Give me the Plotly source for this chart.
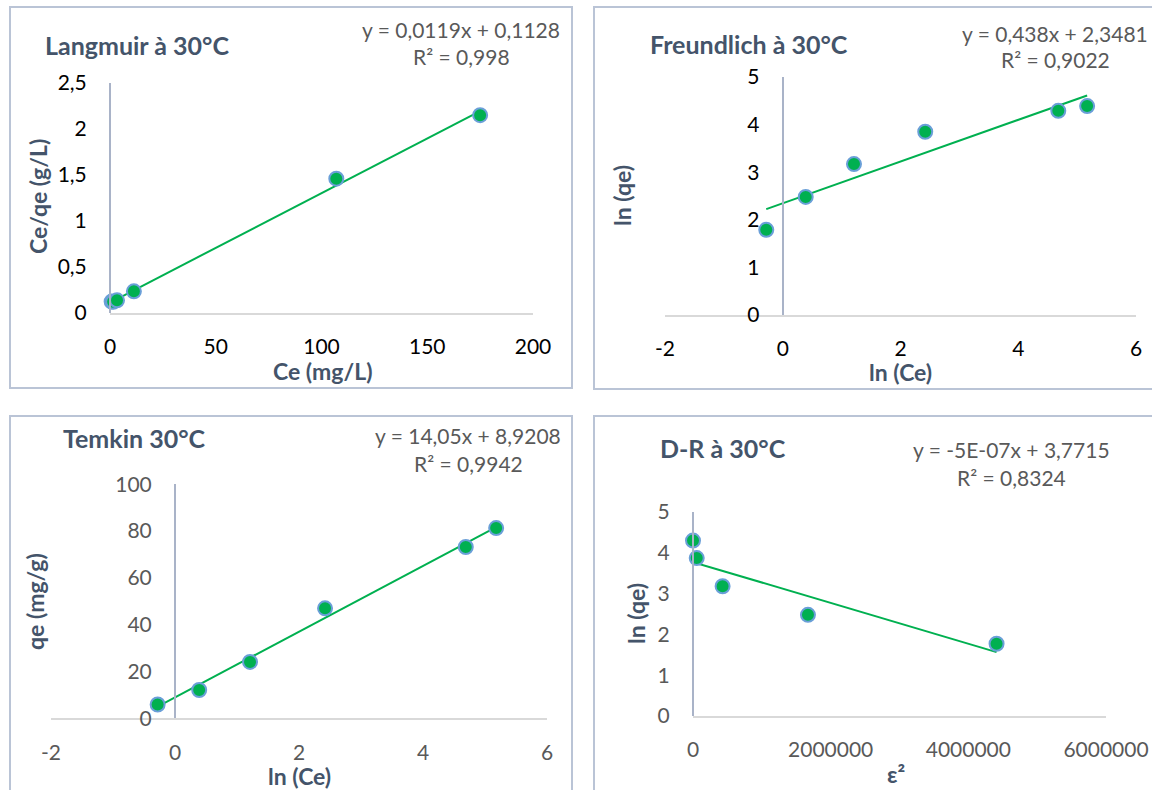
import plotly.graph_objects as go

W, H = 1152, 790

# Langmuir isotherm at 30 °C
langmuir_ce = [0.77, 1.49, 3.32, 11.3, 107.0, 175.0]
langmuir_ce_qe = [0.124, 0.122, 0.138, 0.236, 1.46, 2.15]
langmuir_fit = (0.0119, 0.1128)

# Freundlich isotherm at 30 °C
freundlich_ln_ce = [-0.28, 0.39, 1.21, 2.42, 4.68, 5.17]
freundlich_ln_qe = [1.79, 2.48, 3.17, 3.85, 4.29, 4.39]
freundlich_fit = (0.438, 2.3481)

# Temkin isotherm at 30 °C
temkin_ln_ce = [-0.28, 0.39, 1.21, 2.42, 4.69, 5.18]
temkin_qe = [5.9, 12.1, 24.1, 47.0, 73.2, 81.3]
temkin_fit = (14.05, 8.9208)

# Dubinin-Radushkevich isotherm at 30 °C
dr_eps2 = [0, 54000, 430000, 1670000, 4410000]
dr_ln_qe = [4.30, 3.87, 3.18, 2.48, 1.77]
dr_fit = (-5e-07, 3.7715)

# Tick values / labels
langmuir_xticks = [0, 50, 100, 150, 200]
langmuir_xlabels = ["0", "50", "100", "150", "200"]
langmuir_yticks = [0, 0.5, 1, 1.5, 2, 2.5]
langmuir_ylabels = ["0", "0,5", "1", "1,5", "2", "2,5"]
ln_ce_ticks = [-2, 0, 2, 4, 6]
ln_ce_labels = ["-2", "0", "2", "4", "6"]
ln_qe_ticks = [0, 1, 2, 3, 4, 5]
ln_qe_labels = ["0", "1", "2", "3", "4", "5"]
temkin_yticks = [0, 20, 40, 60, 80, 100]
temkin_ylabels = ["0", "20", "40", "60", "80", "100"]
dr_xticks = [0, 2000000, 4000000, 6000000]
dr_xlabels = ["0", "2000000", "4000000", "6000000"]


def px(x):
    return x / W


def py(y):
    return 1 - y / H


GREEN = "#00B050"
EDGE = "#6A9FD8"
TITLE_C = "#44546A"
EQ_C = "#595959"
FONT = "Lato"

fig = go.Figure()

panels = [
    dict(x=langmuir_ce, y=langmuir_ce_qe, fit=langmuir_fit,
         xdom=(110, 533), ydom=(83, 313), xr=[0, 200], yr=[0, 2.5],
         xt=(langmuir_xticks, langmuir_xlabels), yt=(langmuir_yticks, langmuir_ylabels),
         ypos=110, tick_c="#000000"),
    dict(x=freundlich_ln_ce, y=freundlich_ln_qe, fit=freundlich_fit,
         xdom=(665, 1136), ydom=(77, 315), xr=[-2, 6], yr=[0, 5],
         xt=(ln_ce_ticks, ln_ce_labels), yt=(ln_qe_ticks, ln_qe_labels),
         ypos=782.7, tick_c="#000000"),
    dict(x=temkin_ln_ce, y=temkin_qe, fit=temkin_fit,
         xdom=(51, 547), ydom=(484.3, 718.3), xr=[-2, 6], yr=[0, 100],
         xt=(ln_ce_ticks, ln_ce_labels), yt=(temkin_yticks, temkin_ylabels),
         ypos=175, tick_c="#595959"),
    dict(x=dr_eps2, y=dr_ln_qe, fit=dr_fit,
         xdom=(693, 1106), ydom=(512, 716), xr=[0, 6000000], yr=[0, 5],
         xt=(dr_xticks, dr_xlabels), yt=(ln_qe_ticks, ln_qe_labels),
         ypos=693, tick_c="#595959"),
]

layout_axes = {}
for i, p in enumerate(panels, start=1):
    xa = "x" if i == 1 else f"x{i}"
    ya = "y" if i == 1 else f"y{i}"
    slope, icpt = p["fit"]
    x0, x1 = min(p["x"]), max(p["x"])
    fig.add_trace(go.Scatter(
        x=[x0, x1], y=[slope * x0 + icpt, slope * x1 + icpt],
        mode="lines", line=dict(color=GREEN, width=2),
        xaxis=xa, yaxis=ya, hoverinfo="skip", cliponaxis=False))
    fig.add_trace(go.Scatter(
        x=p["x"], y=p["y"], mode="markers", cliponaxis=False,
        marker=dict(color=GREEN, size=14, line=dict(color=EDGE, width=2)),
        xaxis=xa, yaxis=ya))
    key = "" if i == 1 else str(i)
    layout_axes[f"xaxis{key}"] = dict(
        domain=[px(p["xdom"][0]), px(p["xdom"][1])], range=p["xr"],
        anchor=ya, showline=True, linecolor="#D9D9D9", linewidth=2,
        showgrid=False, zeroline=False, automargin=False,
        tickvals=p["xt"][0], ticktext=p["xt"][1],
        ticks="", ticklabelstandoff=14,
        tickfont=dict(family=FONT, size=21, color=p["tick_c"]))
    layout_axes[f"yaxis{key}"] = dict(
        domain=[py(p["ydom"][1]), py(p["ydom"][0])], range=p["yr"],
        anchor="free", position=px(p["ypos"]), showline=True,
        linecolor="#A9B3C8", linewidth=2, showgrid=False, zeroline=False,
        automargin=False,
        tickvals=p["yt"][0], ticktext=p["yt"][1],
        ticks="", ticklabelstandoff=18,
        tickfont=dict(family=FONT, size=21, color=p["tick_c"]))

annotations = []


def note(text, x, y, size, color, bold=False, xanchor="center", angle=0):
    annotations.append(dict(
        text=f"<b>{text}</b>" if bold else text,
        x=px(x), y=py(y), xref="paper", yref="paper",
        xanchor=xanchor, yanchor="middle", showarrow=False, textangle=angle,
        font=dict(family=FONT, size=size, color=color)))


# Panel titles
note("Langmuir à 30°C", 43, 45, 25, TITLE_C, True, "left")
note("Freundlich à 30°C", 648, 44, 25, TITLE_C, True, "left")
note("Temkin 30°C", 61, 438, 25, TITLE_C, True, "left")
note("D-R à 30°C", 658, 448, 25, TITLE_C, True, "left")

# Trendline equations
note("y = 0,0119x + 0,1128", 461, 30, 21, EQ_C)
note("R² = 0,998", 461, 56, 21, EQ_C)
note("y = 0,438x + 2,3481", 1055, 33, 21, EQ_C)
note("R² = 0,9022", 1055, 60, 21, EQ_C)
note("y = 14,05x + 8,9208", 468, 435, 21, EQ_C)
note("R² = 0,9942", 468, 463, 21, EQ_C)
note("y = -5E-07x + 3,7715", 1011, 449, 21, EQ_C)
note("R² = 0,8324", 1011, 477, 21, EQ_C)

# Axis titles
note("Ce (mg/L)", 322, 371, 23, TITLE_C, True)
note("Ce/qe (g/L)", 38, 197, 23, TITLE_C, True, angle=-90)
note("ln (Ce)", 900, 372, 23, TITLE_C, True)
note("ln (qe)", 622, 196, 23, TITLE_C, True, angle=-90)
note("ln (Ce)", 299, 776, 23, TITLE_C, True)
note("qe (mg/g)", 35, 602, 23, TITLE_C, True, angle=-90)
note("ε²", 896, 774, 23, TITLE_C, True)
note("ln (qe)", 636, 614, 23, TITLE_C, True, angle=-90)

# Chart frames
BORDER = "#BAC4D6"
shapes = []
for (l, t, r, b) in [(10, 7, 572, 388), (594, 7, 1160, 389),
                     (10, 416, 572, 800), (594, 416, 1160, 800)]:
    shapes.append(dict(type="rect", xref="paper", yref="paper",
                       x0=px(l), x1=px(r), y0=py(b), y1=py(t),
                       line=dict(color=BORDER, width=2), layer="below"))

fig.update_layout(
    width=W, height=H,
    margin=dict(l=0, r=0, t=0, b=0, pad=0, autoexpand=False),
    plot_bgcolor="white", paper_bgcolor="white", showlegend=False,
    font=dict(family=FONT), annotations=annotations, shapes=shapes,
    **layout_axes)

fig.write_html("out.html")
